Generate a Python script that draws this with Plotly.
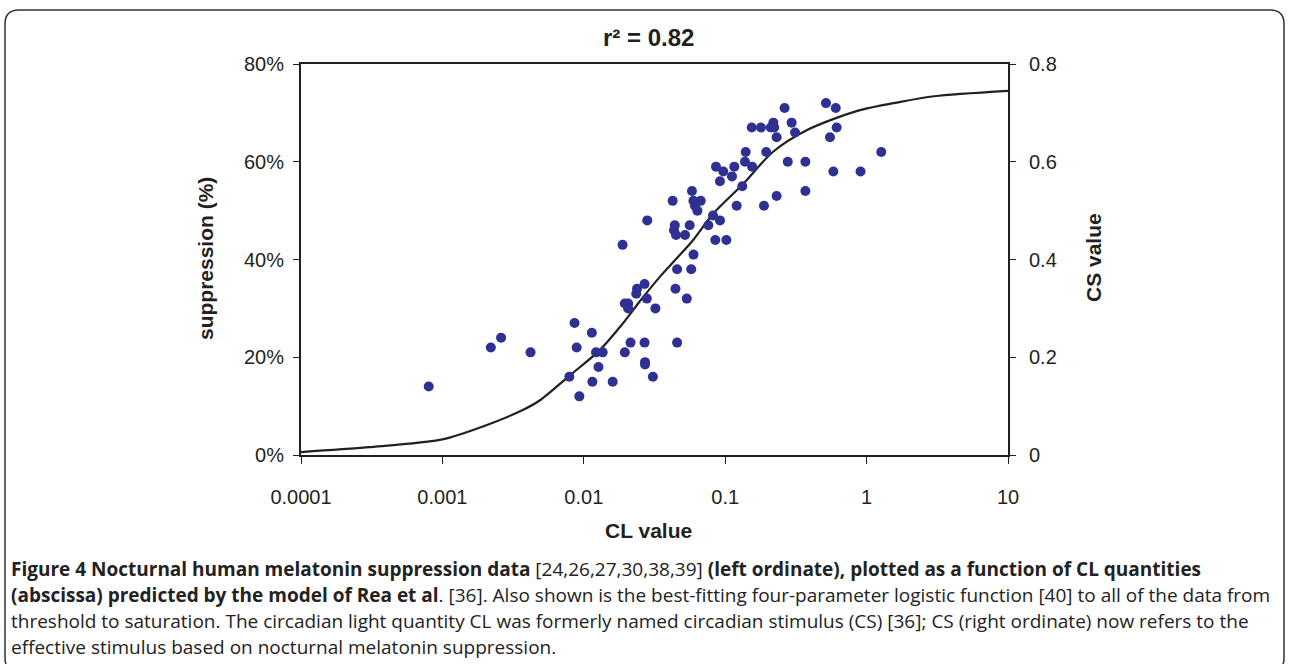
import plotly.graph_objects as go

# ---- data ----
cl_values = [0.0008, 0.0022, 0.0026, 0.0042, 0.0079, 0.0086, 0.0089, 0.0093, 0.0114, 0.0115,
             0.0122, 0.0127, 0.0136, 0.0160, 0.0188, 0.0195, 0.0195, 0.0206, 0.0206, 0.0214,
             0.0235, 0.0238, 0.0269, 0.0269, 0.0271, 0.0271, 0.0279, 0.0281, 0.0308, 0.0321,
             0.0425, 0.0434, 0.0440, 0.0445, 0.0449, 0.0457, 0.0457, 0.0520, 0.0535, 0.0561,
             0.0575, 0.0582, 0.0596, 0.0597, 0.0611, 0.0636, 0.0671, 0.0760, 0.0820, 0.0851,
             0.0861, 0.0918, 0.0918, 0.0970, 0.1019, 0.1117, 0.1160, 0.1205, 0.1320, 0.1380,
             0.1396, 0.1540, 0.1550, 0.1790, 0.1880, 0.1950, 0.2100, 0.2190, 0.2220, 0.2310,
             0.2310, 0.2630, 0.2770, 0.2950, 0.3120, 0.3690, 0.3690, 0.5160, 0.5510, 0.5820,
             0.6050, 0.6140, 0.9060, 1.2700]
suppression_pct = [14, 22, 24, 21, 16, 27, 22, 12, 25, 15,
                   21, 18, 21, 15, 43, 21, 31, 31, 30, 23,
                   33, 34, 23, 35, 19, 18.5, 32, 48, 16, 30,
                   52, 46, 47, 34, 45, 23, 38, 45, 32, 47,
                   38, 54, 52, 41, 51, 50, 52, 47, 49, 44,
                   59, 56, 48, 58, 44, 57, 59, 51, 55, 60,
                   62, 67, 59, 67, 51, 62, 67, 68, 67, 65,
                   53, 71, 60, 68, 66, 60, 54, 72, 65, 58,
                   71, 67, 58, 62]

curve_cl = [0.0001, 0.0003, 0.001, 0.002, 0.0037, 0.0049, 0.0079, 0.0128, 0.019, 0.025,
            0.0346, 0.0594, 0.0823, 0.1355, 0.217, 0.38, 0.86, 1.7, 3.0, 10]
curve_pct = [0.6, 1.6, 3.2, 6.0, 9.2, 11.2, 16.2, 21.3, 27.0, 31.5,
             36.5, 44.0, 49.4, 55.6, 62.0, 66.5, 70.4, 72.2, 73.4, 74.5]

x_tickvals = [0.0001, 0.001, 0.01, 0.1, 1, 10]
x_ticktext = ["0.0001", "0.001", "0.01", "0.1", "1", "10"]
y_tickvals = [0, 20, 40, 60, 80]
y_ticktext = ["0%", "20%", "40%", "60%", "80%"]
y2_tickvals = [0, 0.2, 0.4, 0.6, 0.8]
y2_ticktext = ["0", "0.2", "0.4", "0.6", "0.8"]

title_text = "r² = 0.82"
caption_lines = [
    "<b>Figure 4 Nocturnal human melatonin suppression data</b> [24,26,27,30,38,39] <b>(left ordinate), plotted as a function of CL quantities</b>",
    "<b>(abscissa) predicted by the model of Rea et al</b>. [36]. Also shown is the best-fitting four-parameter logistic function [40] to all of the data from",
    "threshold to saturation. The circadian light quantity CL was formerly named circadian stimulus (CS) [36]; CS (right ordinate) now refers to the",
    "effective stimulus based on nocturnal melatonin suppression.",
]

# ---- layout geometry (pixels) ----
W, H = 1289, 664
L, R, T, B = 301, 1008, 64, 455
pw, ph = R - L, B - T


def px(X):
    return (X - L) / pw


def py(Y):
    return (B - Y) / ph


TXT = "#231f20"
fig = go.Figure()
fig.add_trace(go.Scatter(x=curve_cl, y=curve_pct, mode="lines", line_shape="spline",
                         line=dict(color=TXT, width=2.2, smoothing=0.8), showlegend=False, hoverinfo="skip"))
fig.add_trace(go.Scatter(x=cl_values, y=suppression_pct, mode="markers",
                         marker=dict(color="#2e3192", size=10), showlegend=False))
fig.add_trace(go.Scatter(x=[None], y=[None], yaxis="y2", showlegend=False))

tickfont = dict(family="Liberation Sans, Arial, sans-serif", size=20, color=TXT)
fig.update_layout(
    width=W, height=H,
    margin=dict(l=L, r=W - R, t=T, b=H - B, autoexpand=False),
    paper_bgcolor="white", plot_bgcolor="white",
    xaxis=dict(type="log", range=[-4, 1], tickvals=x_tickvals, ticktext=x_ticktext,
               showgrid=False, zeroline=False, showline=True, linecolor=TXT, linewidth=2,
               mirror=True, ticks="outside", ticklen=7, tickcolor=TXT, tickwidth=1.2,
               tickfont=tickfont, ticklabelstandoff=16),
    yaxis=dict(range=[0, 80], tickvals=y_tickvals, ticktext=y_ticktext,
               showgrid=False, zeroline=False, showline=True, linecolor=TXT, linewidth=2,
               ticks="outside", ticklen=6, tickcolor=TXT, tickwidth=1.2,
               tickfont=tickfont, ticklabelstandoff=5),
    yaxis2=dict(range=[0, 0.8], tickvals=y2_tickvals, ticktext=y2_ticktext, overlaying="y",
                side="right", showgrid=False, zeroline=False, showline=True, linecolor=TXT,
                linewidth=2, ticks="outside", ticklen=6, tickcolor=TXT, tickwidth=1.2,
                tickfont=tickfont, ticklabelstandoff=9),
)

ann = []
common = dict(xref="paper", yref="paper", showarrow=False, xanchor="center", yanchor="middle")
ann.append(dict(text="<b>" + title_text + "</b>", x=px(648), y=py(38),
                font=dict(family="Liberation Sans, Arial", size=24, color=TXT), **common))
ann.append(dict(text="<b>suppression (%)</b>", x=px(205), y=py(259), textangle=-90,
                font=dict(family="Liberation Sans, Arial", size=21, color=TXT), **common))
ann.append(dict(text="<b>CS value</b>", x=px(1093), y=py(258), textangle=-90,
                font=dict(family="Liberation Sans, Arial", size=21, color=TXT), **common))
ann.append(dict(text="<b>CL value</b>", x=px(648), y=py(530),
                font=dict(family="Liberation Sans, Arial", size=21, color=TXT), **common))
cap_y = [569, 595, 621, 647]
for line, yy in zip(caption_lines, cap_y):
    ann.append(dict(text=line, x=px(9), y=py(yy), xref="paper", yref="paper", xanchor="left",
                    yanchor="middle", showarrow=False,
                    font=dict(family="Open Sans, Noto Sans, sans-serif", size=19, color="#222")))
fig.update_layout(annotations=ann)

# rounded frame around the whole figure
x0, x1, y0, y1 = px(5), px(1284), py(10), py(672)
rx, ry = 14 / pw, 14 / ph
path = (f"M {x0+rx},{y0} L {x1-rx},{y0} Q {x1},{y0} {x1},{y0-ry} L {x1},{y1+ry} "
        f"Q {x1},{y1} {x1-rx},{y1} L {x0+rx},{y1} Q {x0},{y1} {x0},{y1+ry} "
        f"L {x0},{y0-ry} Q {x0},{y0} {x0+rx},{y0} Z")
fig.add_shape(type="path", path=path, xref="paper", yref="paper",
              line=dict(color="#333", width=1.5), layer="below")

fig.write_html("out.html", config={"displayModeBar": False},
               post_script="document.body.style.margin='0';document.body.style.padding='0';document.body.style.overflow='hidden';")
